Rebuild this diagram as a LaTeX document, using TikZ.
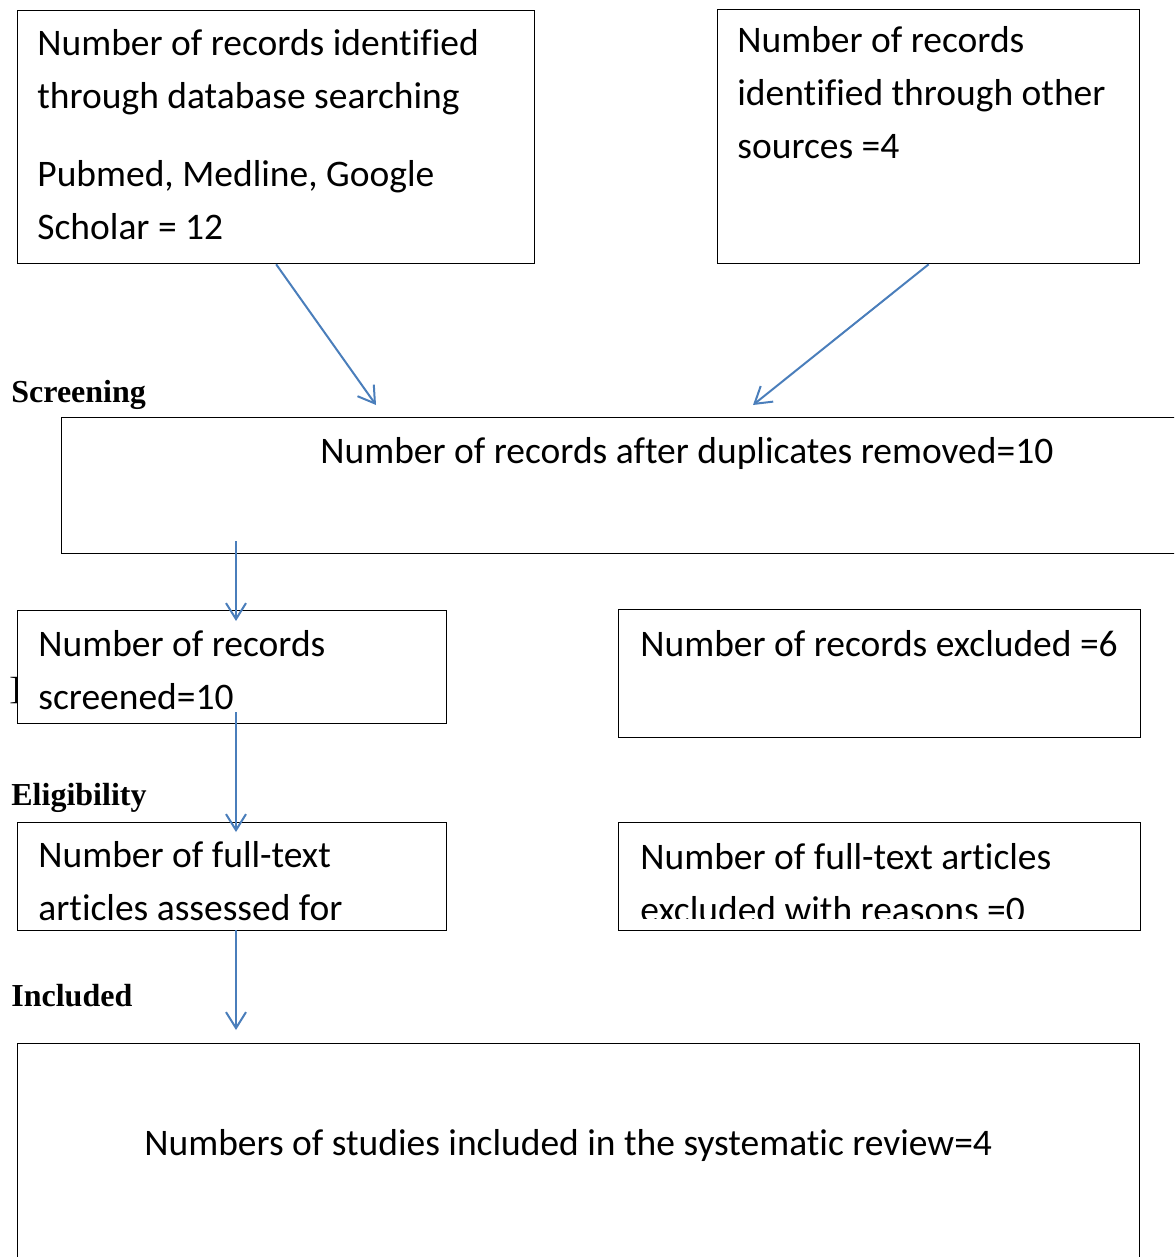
\documentclass[tikz,border=0pt]{standalone}
\usepackage{fontspec}
\setmainfont{Carlito}[Ligatures=NoCommon]
\newfontfamily\tnr{Liberation Serif}
\usetikzlibrary{arrows.meta}

\definecolor{arrowblue}{RGB}{74,126,187}

\tikzset{
  box/.style={draw=black, line width=0.65pt, fill=white, inner sep=0pt, anchor=north west},
  txt/.style={anchor=base west, inner sep=0pt, align=left, font=\fontsize{18.75}{26.5}\selectfont},
  stage/.style={anchor=base west, inner sep=0pt, font=\tnr\bfseries\fontsize{16}{18}\selectfont},
  flow/.style={draw=arrowblue, line width=1pt, -{Straight Barb[length=8pt, width=10pt]}}
}

\begin{document}
\begin{tikzpicture}[x=0.5pt, y=-0.5pt]
  \useasboundingbox (0,0) rectangle (1174,1257);
  \clip (0,0) rectangle (1174,1257);

  \node[stage] (screening) at (11,402) {Screening};
  \node[stage] (eligibility) at (11,805) {Eligibility};
  \node[stage] (included) at (11,1006) {Included};
  \node[anchor=base west, inner sep=0pt, font=\tnr\fontsize{16}{18}\selectfont] (bracket) at (9,699) {]};

  \node[box, minimum width=258.5pt, minimum height=126.5pt] (db) at (17,10) {};
  \node[box, minimum width=211pt, minimum height=127pt] (other) at (717,9) {};
  \node[box, minimum width=570pt, minimum height=68pt] (dup) at (61,417) {};
  \node[box, minimum width=214.5pt, minimum height=56.5pt] (scr) at (17,610) {};
  \node[box, minimum width=261pt, minimum height=64pt] (excl) at (618,609) {};
  \node[box, minimum width=214.5pt, minimum height=54pt] (full) at (17,822) {};
  \node[box, minimum width=261pt, minimum height=54pt] (fullexcl) at (618,822) {};
  \node[box, minimum width=561pt, minimum height=120pt] (incl) at (17,1043) {};

  % the base of a text with several lines sits on its last line
  \node[txt] (dbtxt) at (37,240) {Number of records identified\\through database searching\\[12.5pt]Pubmed, Medline, Google\\Scholar = 12};
  \node[txt] (othertxt) at (737,159) {Number of records\\identified through other\\sources =4};
  \node[txt] (duptxt) at (320,463) {Number of records after duplicates removed=10};
  \node[txt] (scrtxt) at (38,709) {Number of records\\screened=10};
  \node[txt] (excltxt) at (640,656) {Number of records excluded =6};
  \node[txt] (fulltxt) at (38,920) {Number of full-text\\articles assessed for};
  \begin{scope}
    \clip (618,822) rectangle (1140,918);
    \node[txt] (fullexcltxt) at (640,922) {Number of full-text articles\\excluded with reasons =0};
  \end{scope}
  \node[txt] (incltxt) at (144,1155) {Numbers of studies included in the systematic review=4};

  \coordinate (dupin1) at (376,405);
  \coordinate (dupin2) at (753,405);
  \coordinate (dupout) at (236,541);
  \coordinate (scrin) at (236,621);
  \coordinate (scrout) at (236,712);
  \coordinate (fullin) at (236,832);
  \coordinate (fullout) at (236,930);
  \coordinate (inclin) at (236,1030);

  \draw[flow] (db.south) -- (dupin1);
  \draw[flow] (other.south) -- (dupin2);
  \draw[flow] (dupout) -- (scrin);
  \draw[flow] (scrout) -- (fullin);
  \draw[flow] (fullout) -- (inclin);
\end{tikzpicture}
\end{document}
